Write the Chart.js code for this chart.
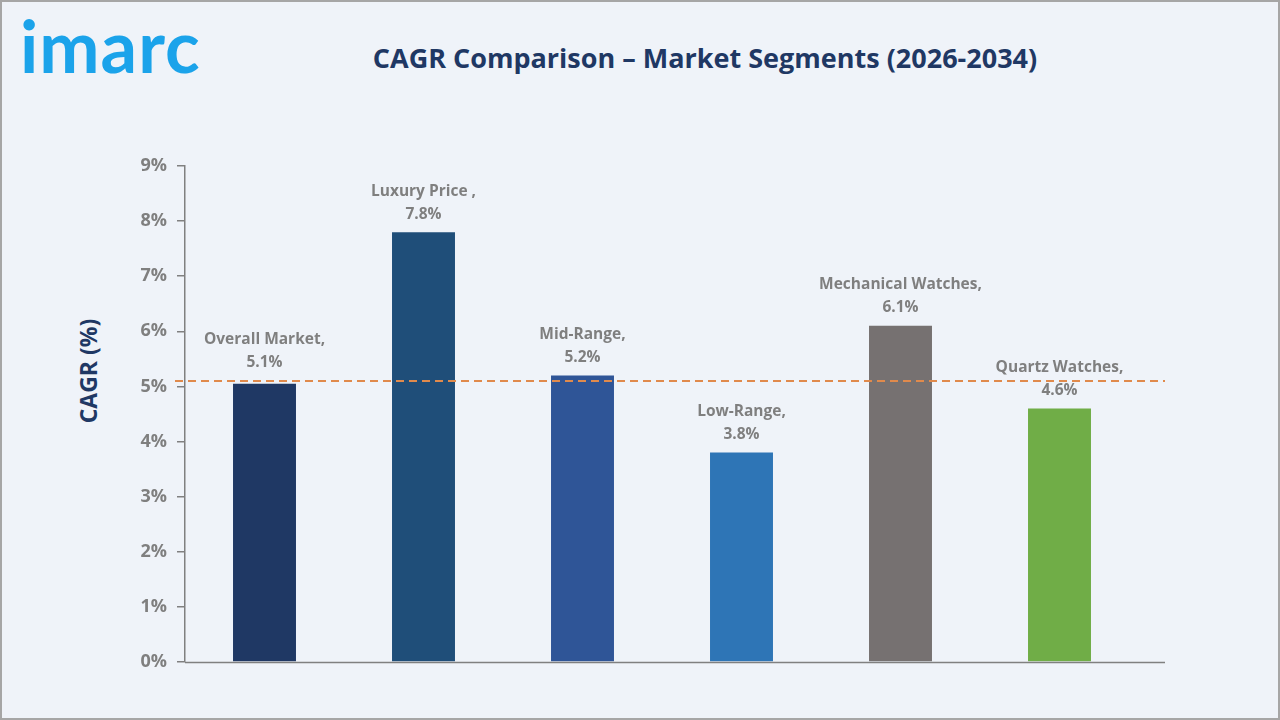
<!DOCTYPE html>
<html>
<head>
<meta charset="utf-8">
<script src="https://cdn.jsdelivr.net/npm/chart.js@4.4.1/dist/chart.umd.min.js"></script>
<style>
  html, body { margin:0; padding:0; }
  body { width:1280px; height:720px; background:#eff3f9; position:relative; overflow:hidden; font-family:"Open Sans", sans-serif; }
  #frame { position:absolute; left:0; top:0; width:1276px; height:716px; border:2px solid #a6a6a6; }
  #logo { position:absolute; left:20px; top:2px; font-family:Lato, sans-serif; font-weight:700; font-size:72px; color:#1ba3ea; letter-spacing:1px; line-height:1.2; }
  #title { position:absolute; left:0; width:1410px; top:39px; text-align:center; font-weight:700; font-size:27px; color:#1f3864; }
  #ytitle { position:absolute; left:88px; top:371px; transform:translate(-50%,-50%) rotate(-90deg); font-weight:700; font-size:23px; color:#1f3864; white-space:nowrap; }
  #c { position:absolute; left:0; top:0; }
</style>
</head>
<body>
<div id="frame"></div>
<div id="logo">imarc</div>
<div id="title">CAGR Comparison – Market Segments (2026-2034)</div>
<div id="ytitle">CAGR (%)</div>
<canvas id="c" width="1280" height="720"></canvas>
<script>
const categories = ["Overall Market", "Luxury Price ", "Mid-Range", "Low-Range", "Mechanical Watches", "Quartz Watches"];
const values = [5.05, 7.8, 5.2, 3.8, 6.1, 4.6];
const valueLabels = ["5.1%", "7.8%", "5.2%", "3.8%", "6.1%", "4.6%"];
const barColors = ["#1f3864", "#1f4e79", "#2f5597", "#2e75b6", "#767171", "#70ad47"];
const overallLine = 5.1;
const yTicks = [0,1,2,3,4,5,6,7,8,9];

const overlay = {
  id: 'overlay',
  afterDatasetsDraw(chart) {
    const ctx = chart.ctx;
    const y = chart.scales.y;
    const area = chart.chartArea;
    ctx.save();
    ctx.strokeStyle = '#808080';
    ctx.lineWidth = 1.5;
    ctx.beginPath();
    ctx.moveTo(area.left, area.bottom + 0.5);
    ctx.lineTo(1165, area.bottom + 0.5);
    ctx.stroke();
    const yy = y.getPixelForValue(overallLine);
    ctx.strokeStyle = '#e08a4c';
    ctx.lineWidth = 2;
    ctx.setLineDash([8, 5]);
    ctx.beginPath();
    ctx.moveTo(175, yy);
    ctx.lineTo(1165, yy);
    ctx.stroke();
    ctx.setLineDash([]);
    const meta = chart.getDatasetMeta(0);
    ctx.fillStyle = '#7f7f7f';
    ctx.font = 'bold 15.5px "Open Sans"';
    ctx.textAlign = 'center';
    ctx.textBaseline = 'middle';
    meta.data.forEach((bar, i) => {
      const top = i === 0 ? y.getPixelForValue(overallLine) : bar.y;
      ctx.fillText(categories[i] + ',', bar.x, top - 41);
      ctx.fillText(valueLabels[i], bar.x, top - 18);
    });
    ctx.restore();
  }
};

new Chart(document.getElementById('c'), {
  type: 'bar',
  data: {
    labels: categories,
    datasets: [{
      data: values,
      backgroundColor: barColors,
      categoryPercentage: 1,
      barPercentage: 0.396
    }]
  },
  options: {
    responsive: false,
    animation: false,
    layout: { padding: { left: 76, right: 141, top: 166, bottom: 58 } },
    plugins: { legend: { display: false }, tooltip: { enabled: false } },
    scales: {
      x: { display: false },
      y: {
        min: 0, max: 9,
        afterFit(scale) { scale.width = 109; },
        afterBuildTicks(scale) { scale.ticks = yTicks.map(v => ({ value: v })); },
        ticks: {
          callback: v => v + '%',
          color: '#7f7f7f',
          font: { family: '"Open Sans"', weight: 'bold', size: 18 },
          padding: 10
        },
        grid: { display: true, drawOnChartArea: false, tickLength: 8, color: '#808080', lineWidth: 1.5 },
        border: { display: true, color: '#808080', width: 1.5 },
        title: { display: false }
      }
    }
  },
  plugins: [overlay]
});
</script>
</body>
</html>
